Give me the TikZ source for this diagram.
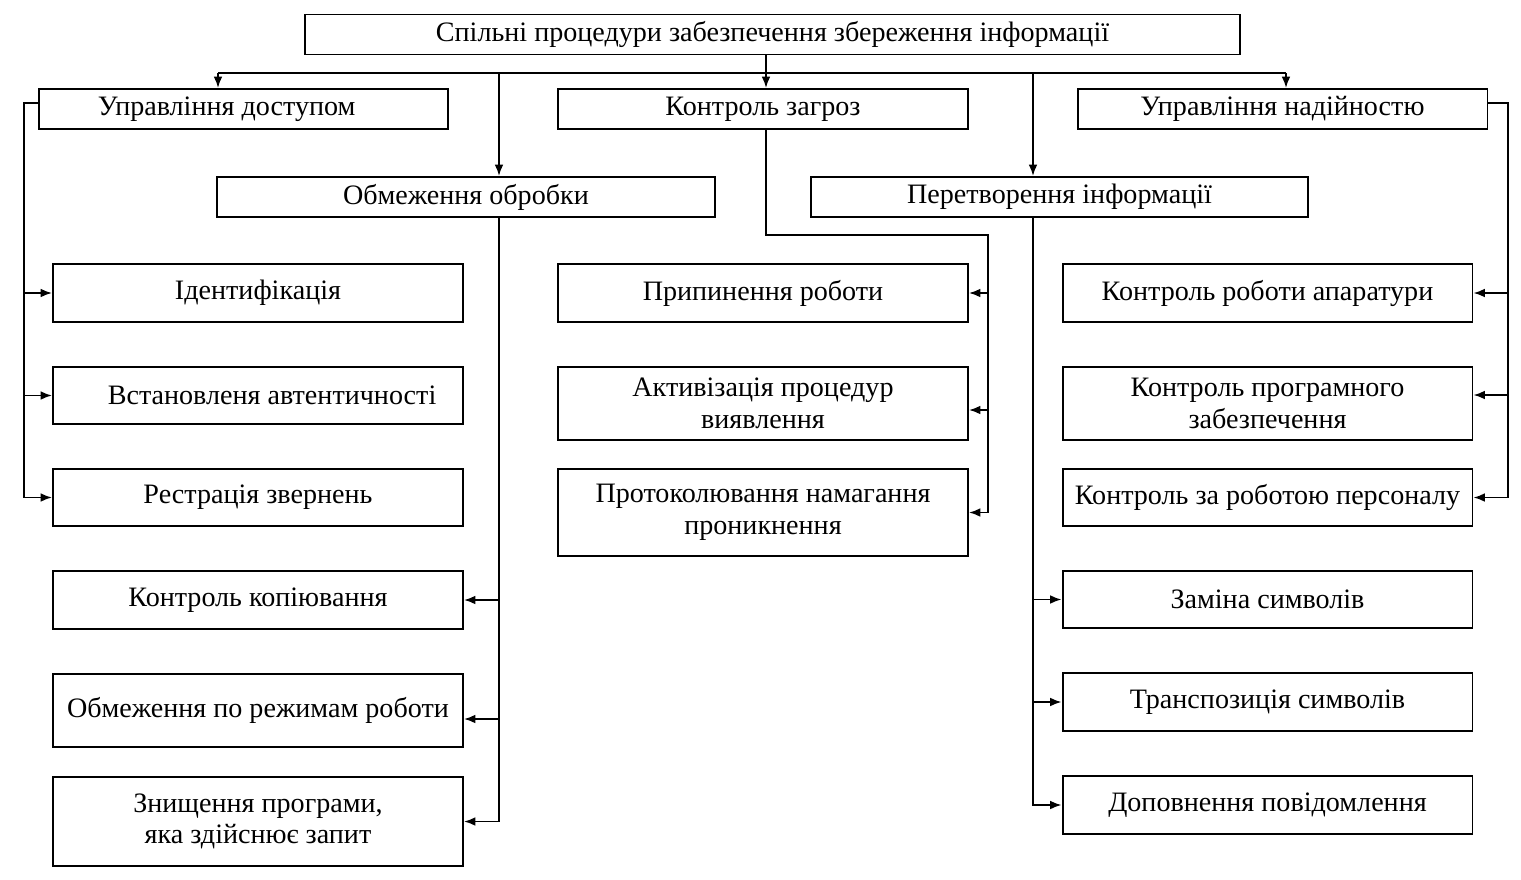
\documentclass[tikz,border=0pt]{standalone}
\usepackage{fontspec}
\setmainfont{Liberation Serif}
\usepackage{tikz}
\usetikzlibrary{arrows.meta}

\begin{document}
\begin{tikzpicture}[
            x = 0.02cm, y = -0.02cm, % one unit = one pixel of the scheme
            >= {Latex[length=6.5pt,width=5pt]}, % arrow head style
            line width = 1.1pt, % line style
            font = \fontsize{16}{18}\selectfont
        ]

        \tikzstyle{box}=[
            draw = black,
            line width = 1.1pt,
            align = center,
            inner sep = 2pt,
            minimum width = 8.2cm,
            minimum height = 1.16cm
        ]
        \tikzstyle{head}=[box, minimum height = 0.8cm]

\useasboundingbox (0,0) rectangle (1521,879);

% top levels
\node[head, minimum width=18.7cm] (top) at (772.5,34.5) {Спільні процедури забезпечення збереження інформації};
\node[head] (uda) at (243.5,109) {Управління доступом\hspace*{1.2em}};
\node[head] (kz) at (763,109) {Контроль загроз};
\node[head] (un) at (1282.5,109) {Управління надійностю};
\node[head, minimum width=9.96cm] (ob) at (466,197) {Обмеження обробки};
\node[head, minimum width=9.94cm] (pi) at (1059.5,197) {Перетворення інформації};

% left column
\node[box] (l1) at (258,293) {Ідентифікація};
\node[box, minimum height=1.14cm] (l2) at (258,395.5) {\hspace*{1em}Встановленя автентичності};
\node[box, minimum height=1.14cm] (l3) at (258,497.5) {Рестрація звернень};
\node[box] (l4) at (258,600) {Контроль копіювання};
\node[box, minimum height=1.46cm] (l5) at (258,710.5) {Обмеження по режимам роботи};
\node[box, minimum height=1.78cm] (l6) at (258,821.5) {Знищення програми,\\ яка здійснює запит};

% middle column
\node[box] (m1) at (763,293) {Припинення роботи};
\node[box, minimum height=1.46cm] (m2) at (763,403.5) {Активізація процедур\\ виявлення};
\node[box, minimum height=1.74cm] (m3) at (763,512.5) {Протоколювання намагання\\ проникнення};

% right column
\node[box] (r1) at (1267.5,293) {Контроль роботи апаратури};
\node[box, minimum height=1.46cm] (r2) at (1267.5,403.5) {Контроль програмного\\ забезпечення};
\node[box, minimum height=1.14cm] (r3) at (1267.5,497.5) {Контроль за роботою персоналу};
\node[box, minimum height=1.14cm] (r4) at (1267.5,599.5) {Заміна символів};
\node[box] (r5) at (1267.5,702) {Транспозиція символів};
\node[box] (r6) at (1267.5,805) {Доповнення повідомлення};

% bus under the top box
\coordinate (busL) at (218,73);
\coordinate (busR) at (1286,73);
\coordinate (kzx) at (766,73);
\coordinate (obx) at (499,73);
\coordinate (pix) at (1033,73);
\coordinate (ul) at (24,103);
\coordinate (kzr) at (988,235);
\coordinate (unr) at (1508,103);

\draw (busL) -- (busR);
\draw [->] (kzx |- top.south) -- (kzx |- kz.north);
\draw [->] (busL) -- (busL |- uda.north);
\draw [->] (busR) -- (busR |- un.north);
\draw [->] (obx) -- (obx |- ob.north);
\draw [->] (pix) -- (pix |- pi.north);

% access control
\draw [->] (uda.west |- ul) -- (ul) |- (l3.west);
\draw [->] (ul |- l1.west) -- (l1.west);
\draw [->] (ul |- l2.west) -- (l2.west);

% processing limits
\draw [->] (obx |- ob.south) |- (l6.east);
\draw [->] (obx |- l4.east) -- (l4.east);
\draw [->] (obx |- 0,719) -- (l5.east |- 0,719);

% threat control
\draw [->] (kzx |- kz.south) |- (kzr) |- (m3.east);
\draw [->] (kzr |- m1.east) -- (m1.east);
\draw [->] (kzr |- 0,410) -- (m2.east |- 0,410);

% reliability
\draw [->] (un.east |- unr) -- (unr) |- (r3.east);
\draw [->] (unr |- r1.east) -- (r1.east);
\draw [->] (unr |- 0,395) -- (r2.east |- 0,395);

% transformation
\draw [->] (pix |- pi.south) |- (r6.west);
\draw [->] (pix |- r4.west) -- (r4.west);
\draw [->] (pix |- r5.west) -- (r5.west);
\end{tikzpicture}
\end{document}
